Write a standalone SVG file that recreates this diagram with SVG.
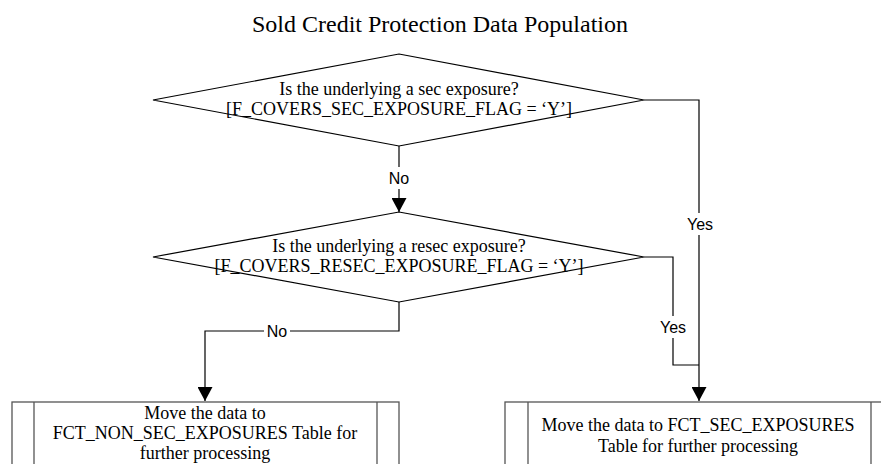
<svg xmlns="http://www.w3.org/2000/svg" width="881" height="464" viewBox="0 0 881 464">
<defs>
<marker id="arr" markerWidth="14" markerHeight="15" refX="14" refY="7.5" orient="auto" markerUnits="userSpaceOnUse">
<path d="M0,0 L14,7.5 L0,15 Z" fill="#000"/>
</marker>
<style>
.shape{fill:#fff;stroke:#000;stroke-width:1.2}
.box{fill:#fff;stroke:#555;stroke-width:1.3}
.t{font-family:"Liberation Serif","Times New Roman",serif;font-size:18px;fill:#000;text-anchor:middle}
.title{font-family:"Liberation Serif","Times New Roman",serif;font-size:24px;fill:#000;text-anchor:middle}
.lbl{font-family:"Liberation Sans",Arial,sans-serif;font-size:16px;fill:#000;text-anchor:middle}
.c{fill:none;stroke:#000;stroke-width:1.2}
</style>
</defs>
<rect width="881" height="464" fill="#fff"/>
<text class="title" x="440" y="32">Sold Credit Protection Data Population</text>

<g id="connectors">
<path class="c" d="M399,146 V212" marker-end="url(#arr)"/>
<path class="c" d="M644,100 H699 V401" marker-end="url(#arr)"/>
<path class="c" d="M644,257 H673 V365 H699"/>
<path class="c" d="M399,302 V331 H205 V401" marker-end="url(#arr)"/>
<rect x="386" y="167" width="26" height="22" fill="#fff"/>
<text class="lbl" x="399" y="184">No</text>
<rect x="685" y="213" width="30" height="22" fill="#fff"/>
<text class="lbl" x="700" y="230">Yes</text>
<rect x="658" y="316" width="30" height="22" fill="#fff"/>
<text class="lbl" x="673" y="333">Yes</text>
<rect x="264" y="320" width="26" height="22" fill="#fff"/>
<text class="lbl" x="277" y="337">No</text>
</g>

<g id="decision1">
<polygon class="shape" points="399,54 644,100 399,146 153,100"/>
<text class="t" x="399" y="95">Is the underlying a sec exposure?</text>
<text class="t" x="399" y="115">[F_COVERS_SEC_EXPOSURE_FLAG = ‘Y’]</text>
</g>

<g id="decision2">
<polygon class="shape" points="399,212 644,257 399,302 153,257"/>
<text class="t" x="399" y="252">Is the underlying a resec exposure?</text>
<text class="t" x="399" y="272">[F_COVERS_RESEC_EXPOSURE_FLAG = ‘Y’]</text>
</g>

<g id="process-nonsec">
<rect class="box" x="12" y="402" width="387" height="80"/>
<line class="box" x1="34" y1="402" x2="34" y2="482"/>
<line class="box" x1="377" y1="402" x2="377" y2="482"/>
<text class="t" x="205" y="419">Move the data to</text>
<text class="t" x="205" y="439">FCT_NON_SEC_EXPOSURES Table for</text>
<text class="t" x="205" y="459">further processing</text>
</g>

<g id="process-sec">
<rect class="box" x="505" y="402" width="387" height="80"/>
<line class="box" x1="528" y1="402" x2="528" y2="482"/>
<line class="box" x1="871" y1="402" x2="871" y2="482"/>
<text class="t" x="698" y="431">Move the data to FCT_SEC_EXPOSURES</text>
<text class="t" x="698" y="452">Table for further processing</text>
</g>
</svg>
